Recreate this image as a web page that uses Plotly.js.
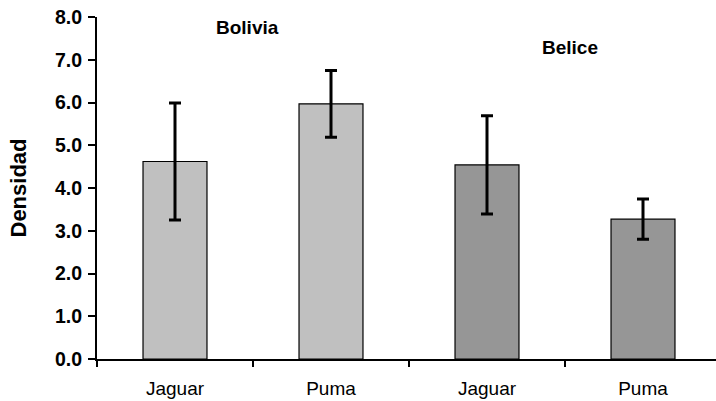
<!DOCTYPE html>
<html>
<head>
<meta charset="utf-8">
<script src="https://cdn.plot.ly/plotly-3.0.1.min.js"></script>
<style>html,body{margin:0;padding:0;background:#fff;}#chart{width:716px;height:401px;}</style>
</head>
<body>
<div id="chart"></div>
<script>
// Data
var categories = ["Jaguar", "Puma", "Jaguar", "Puma"];
var regions = ["Bolivia", "Bolivia", "Belice", "Belice"];
var densidad = [4.62, 5.97, 4.54, 3.27];
var errores = [1.37, 0.78, 1.15, 0.47];
var yTickVals = [0, 1, 2, 3, 4, 5, 6, 7, 8];
var yTickText = ["0.0", "1.0", "2.0", "3.0", "4.0", "5.0", "6.0", "7.0", "8.0"];
var groupLabels = ["Bolivia", "Belice"];

var regionColors = {"Bolivia": "#C0C0C0", "Belice": "#969696"};
var idx = categories.map(function (c, i) { return i; });

var font = "Liberation Sans, Arial, Helvetica, sans-serif";

var trace = {
  type: "bar",
  x: idx,
  y: densidad,
  width: 0.41,
  marker: {
    color: regions.map(function (r) { return regionColors[r]; }),
    line: {color: "#000000", width: 1.2}
  },
  error_y: {
    type: "data",
    array: errores,
    visible: true,
    color: "#000000",
    thickness: 3,
    width: 6
  },
  hoverinfo: "none"
};

// Annotation positions for the group labels
var annX = [0.465, 2.53];
var annY = [7.76, 7.29];

var layout = {
  width: 716,
  height: 401,
  margin: {l: 97, r: 0, t: 17, b: 42},
  paper_bgcolor: "#ffffff",
  plot_bgcolor: "#ffffff",
  showlegend: false,
  font: {family: font, color: "#000000"},
  xaxis: {
    range: [-0.5, -0.5 + (716 - 97) / 156],
    tickvals: idx,
    ticktext: categories,
    ticks: "",
    showgrid: false,
    zeroline: false,
    showline: true,
    linecolor: "#000000",
    linewidth: 2,
    tickfont: {family: font, size: 19, color: "#000000"},
    ticklabelstandoff: 11,
    minor: {
      tickvals: [-0.5, 0.5, 1.5, 2.5],
      ticks: "outside",
      ticklen: 6,
      tickwidth: 2,
      tickcolor: "#000000",
      showgrid: false
    },
    fixedrange: true
  },
  yaxis: {
    range: [0, 8],
    tickvals: yTickVals,
    ticktext: yTickText,
    ticks: "outside",
    ticklen: 7,
    tickwidth: 2,
    tickcolor: "#000000",
    showgrid: false,
    zeroline: false,
    showline: true,
    linecolor: "#000000",
    linewidth: 2,
    ticklabelstandoff: 2,
    tickfont: {family: font, size: 19.5, color: "#000000", weight: "bold"},
    title: {text: "Densidad", font: {family: font, size: 22, color: "#000000", weight: "bold"}, standoff: 22},
    automargin: false,
    fixedrange: true
  },
  annotations: groupLabels.map(function (g, i) {
    return {
      text: g,
      x: annX[i],
      y: annY[i],
      xref: "x",
      yref: "y",
      showarrow: false,
      font: {family: font, size: 19, color: "#000000", weight: "bold"}
    };
  })
};

Plotly.newPlot("chart", [trace], layout, {displayModeBar: false, staticPlot: true});
</script>
</body>
</html>
